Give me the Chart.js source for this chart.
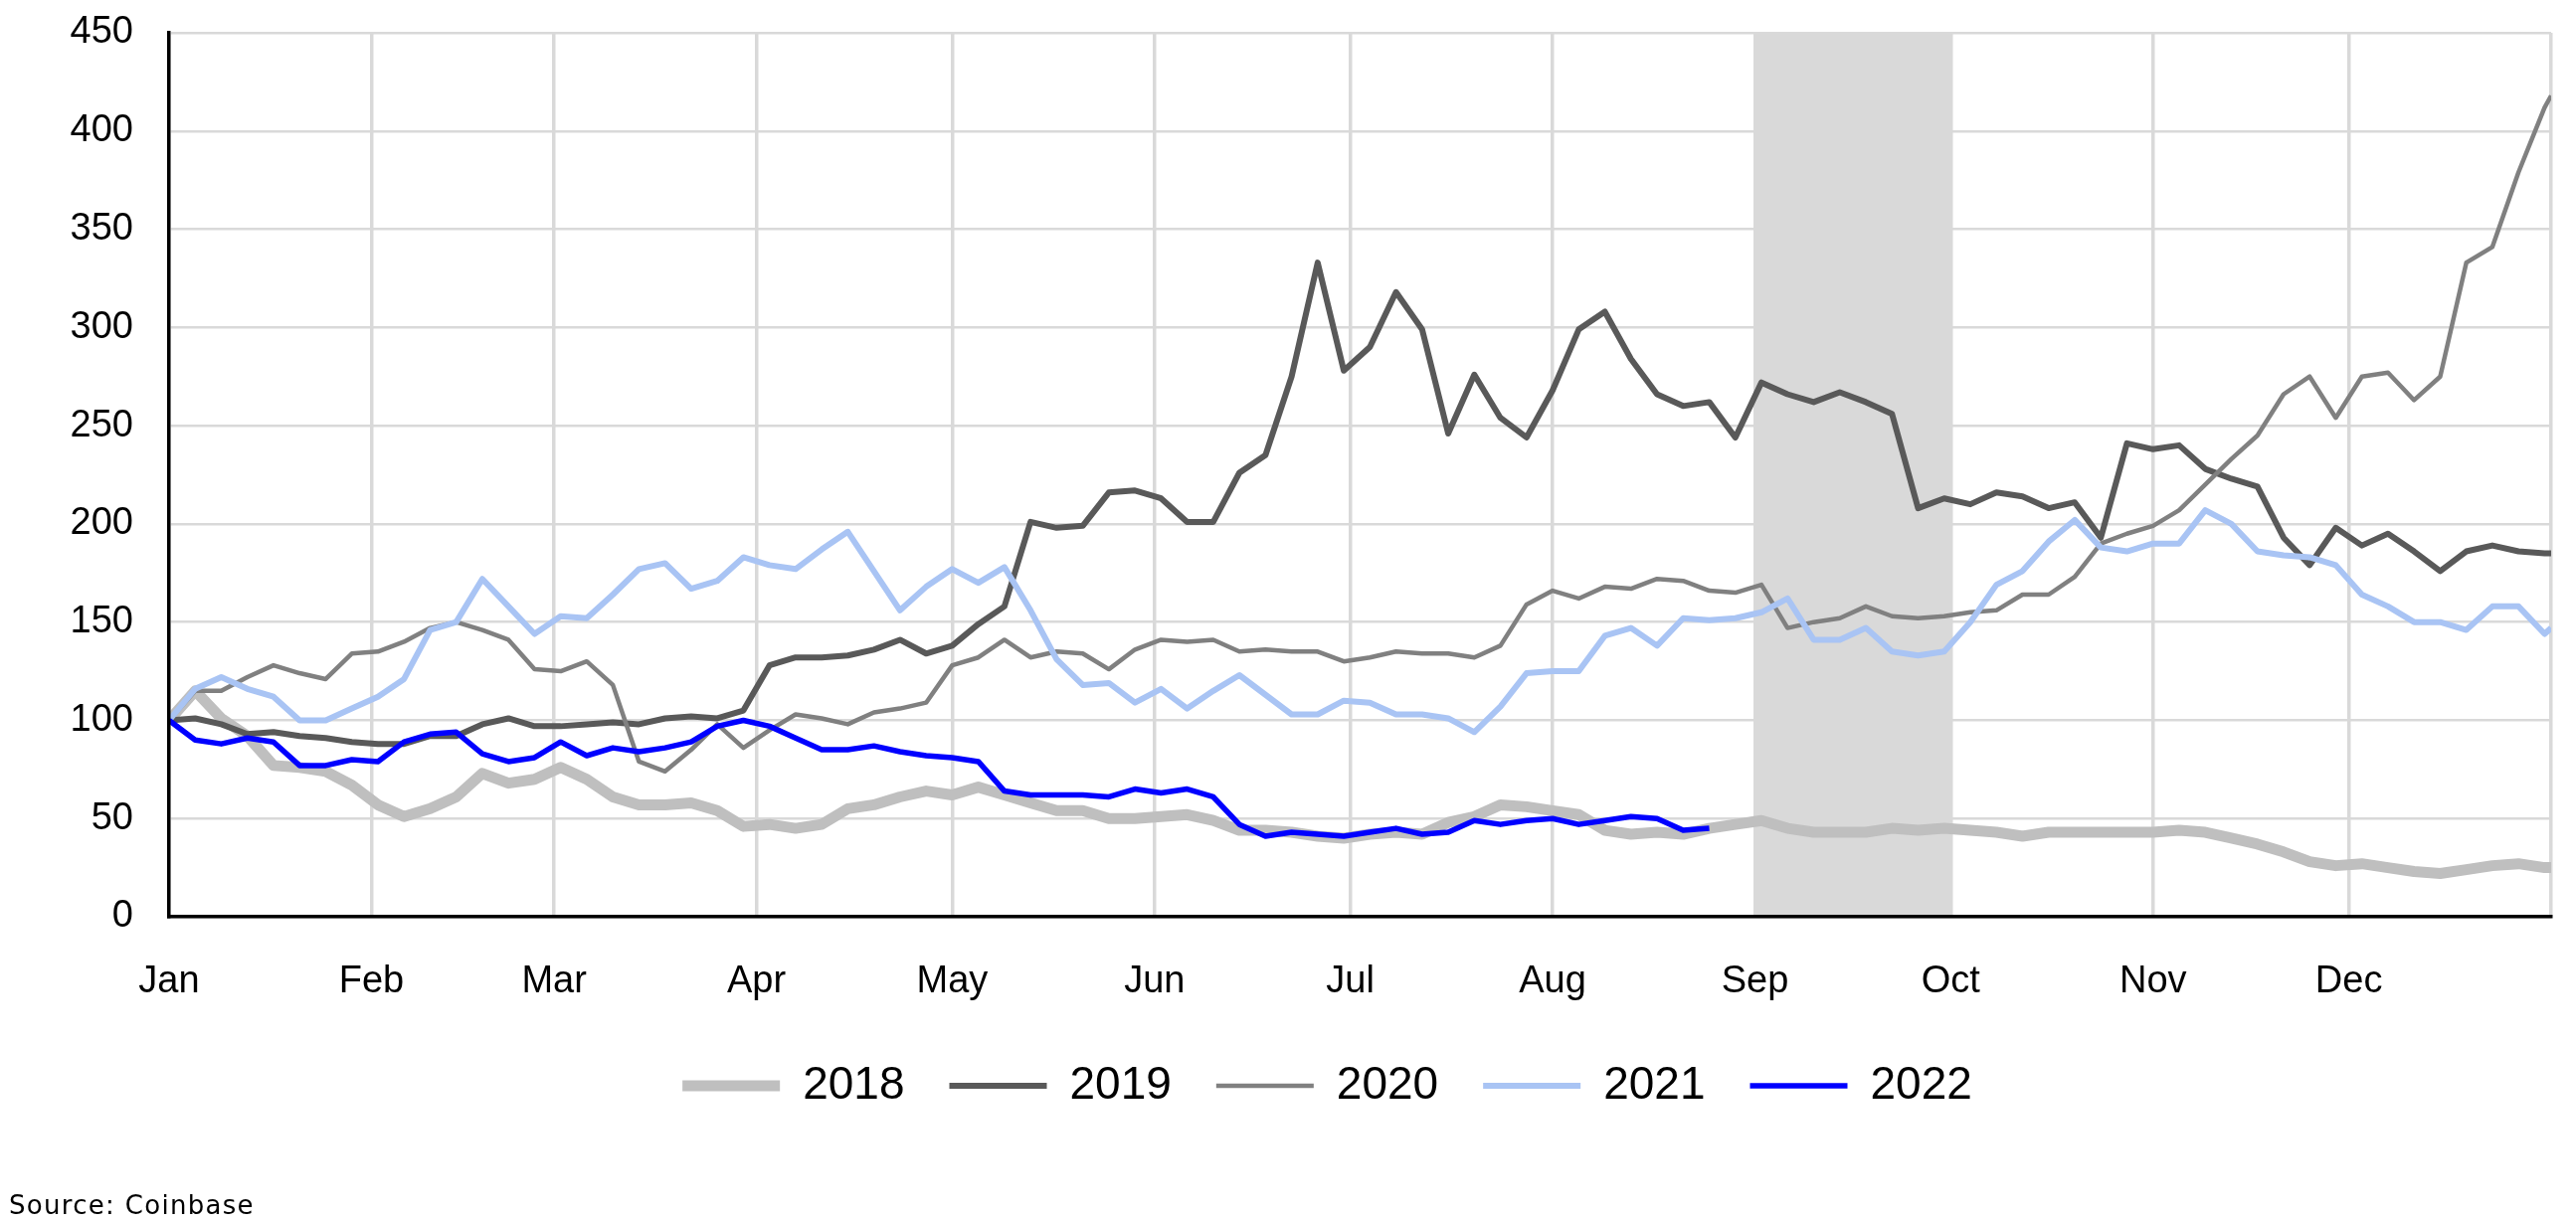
<!DOCTYPE html>
<html>
<head>
<meta charset="utf-8">
<script src="https://cdn.jsdelivr.net/npm/chart.js@4.4.1/dist/chart.umd.min.js"></script>
<style>
  body { margin: 0; background: #fff; }
  #wrap { position: relative; width: 2590px; height: 1230px; }
  #src { position: absolute; left: 9px; top: 1199px; font: 26px 'DejaVu Sans', Verdana, sans-serif; line-height: 26px; letter-spacing: 1.3px; color: #000; }
</style>
</head>
<body>
<div id="wrap">
  <canvas id="myChart" width="2590" height="1230"></canvas>
  <div id="src">Source: Coinbase</div>
</div>
<script>
// day of year for each reading (every 4 days)
const days = [0, 4, 8, 12, 16, 20, 24, 28, 32, 36, 40, 44, 48, 52, 56, 60, 64, 68, 72, 76, 80, 84, 88, 92, 96, 100,
  104, 108, 112, 116, 120, 124, 128, 132, 136, 140, 144, 148, 152, 156, 160, 164, 168, 172, 176, 180, 184, 188, 192, 196, 200,
  204, 208, 212, 216, 220, 224, 228, 232, 236, 240, 244, 248, 252, 256, 260, 264, 268, 272, 276, 280, 284, 288, 292, 296, 300,
  304, 308, 312, 316, 320, 324, 328, 332, 336, 340, 344, 348, 352, 356, 360, 364, 365];

const months = ['Jan', 'Feb', 'Mar', 'Apr', 'May', 'Jun', 'Jul', 'Aug', 'Sep', 'Oct', 'Nov', 'Dec'];
const monthStarts = [0, 31, 59, 90, 120, 151, 181, 212, 243, 273, 304, 334];
const yTicks = [0, 50, 100, 150, 200, 250, 300, 350, 400, 450];

// shaded band (Sep)
const shadeFrom = 243;
const shadeTo = 273;

const y2018 = [100, 115, 101, 92, 77, 76, 74, 67, 57, 51, 55, 61, 73, 68, 70, 76, 70, 61, 57, 57, 58, 54, 46, 47, 45, 47,
  55, 57, 61, 64, 62, 66, 62, 58, 54, 54, 50, 50, 51, 52, 49, 44, 44, 43, 41, 40, 42, 43, 42, 48, 51,
  57, 56, 54, 52, 44, 42, 43, 42, 45, 47, 49, 45, 43, 43, 43, 45, 44, 45, 44, 43, 41, 43, 43, 43, 43,
  43, 44, 43, 40, 37, 33, 28, 26, 27, 25, 23, 22, 24, 26, 27, 25, 25];

const y2019 = [100, 101, 98, 93, 94, 92, 91, 89, 88, 88, 92, 92, 98, 101, 97, 97, 98, 99, 98, 101, 102, 101, 105, 128, 132, 132,
  133, 136, 141, 134, 138, 149, 158, 201, 198, 199, 216, 217, 213, 201, 201, 226, 235, 275, 333, 278, 290, 318, 299, 246, 276,
  254, 244, 268, 299, 308, 284, 266, 260, 262, 244, 272, 266, 262, 267, 262, 256, 208, 213, 210, 216, 214, 208, 211, 193, 241,
  238, 240, 228, 223, 219, 193, 179, 198, 189, 195, 186, 176, 186, 189, 186, 185, 185];

const y2020 = [100, 115, 115, 122, 128, 124, 121, 134, 135, 140, 147, 150, 146, 141, 126, 125, 130, 118, 79, 74, 85, 98, 86, 95, 103, 101,
  98, 104, 106, 109, 128, 132, 141, 132, 135, 134, 126, 136, 141, 140, 141, 135, 136, 135, 135, 130, 132, 135, 134, 134, 132,
  138, 159, 166, 162, 168, 167, 172, 171, 166, 165, 169, 147, 150, 152, 158, 153, 152, 153, 155, 156, 164, 164, 173, 190, 195,
  199, 207, 220, 233, 245, 266, 275, 254, 275, 277, 263, 275, 333, 341, 379, 412, 418];

const y2021 = [100, 116, 122, 116, 112, 100, 100, 106, 112, 121, 146, 150, 172, 158, 144, 153, 152, 164, 177, 180, 167, 171, 183, 179, 177, 187,
  196, 176, 156, 168, 177, 170, 178, 156, 131, 118, 119, 109, 116, 106, 115, 123, 113, 103, 103, 110, 109, 103, 103, 101, 94,
  107, 124, 125, 125, 143, 147, 138, 152, 151, 152, 155, 162, 141, 141, 147, 135, 133, 135, 150, 169, 176, 191, 202, 188, 186,
  190, 190, 207, 200, 186, 184, 183, 179, 164, 158, 150, 150, 146, 158, 158, 144, 147];

// 2022 stops at the end of August
const y2022 = [100, 90, 88, 91, 89, 77, 77, 80, 79, 89, 93, 94, 83, 79, 81, 89, 82, 86, 84, 86, 89, 97, 100, 97, 91, 85,
  85, 87, 84, 82, 81, 79, 64, 62, 62, 62, 61, 65, 63, 65, 61, 47, 41, 43, 42, 41, 43, 45, 42, 43, 49,
  47, 49, 50, 47, 49, 51, 50, 44, 45];

function toPoints(vals) {
  return vals.map((v, i) => ({ x: days[i], y: v }));
}

function series(label, vals, color, width, order) {
  return {
    label: label,
    data: toPoints(vals),
    borderColor: color,
    backgroundColor: color,
    borderWidth: width,
    borderJoinStyle: 'round',
    pointRadius: 0,
    tension: 0,
    order: order
  };
}

// grey band behind the lines
const shadePlugin = {
  id: 'shade',
  beforeDatasetsDraw(chart) {
    const { ctx, chartArea, scales } = chart;
    const x0 = scales.x.getPixelForValue(shadeFrom);
    const x1 = scales.x.getPixelForValue(shadeTo);
    ctx.save();
    ctx.fillStyle = '#d9d9d9';
    ctx.fillRect(x0, chartArea.top, x1 - x0, chartArea.bottom - chartArea.top);
    ctx.restore();
  }
};

// legend sits a little right of the canvas centre
const legendShift = {
  id: 'legendShift',
  afterLayout(chart) {
    chart.legend.left += 52;
    chart.legend.right += 52;
  }
};

const tickFont = { family: "'Liberation Sans', Arial, sans-serif", size: 38 };

const ctx = document.getElementById('myChart').getContext('2d');
const myChart = new Chart(ctx, {
  type: 'line',
  data: {
    datasets: [
      series('2018', y2018, '#bfbfbf', 11, 5),
      series('2019', y2019, '#595959', 6, 4),
      series('2020', y2020, '#808080', 4.5, 3),
      series('2021', y2021, '#a9c4f4', 6, 2),
      series('2022', y2022, '#0000ff', 5.5, 1)
    ]
  },
  options: {
    responsive: false,
    animation: false,
    layout: { padding: { top: 33, right: 25, bottom: 105, left: 0 } },
    plugins: {
      tooltip: { enabled: false },
      legend: {
        position: 'bottom',
        labels: {
          usePointStyle: true,
          pointStyle: 'line',
          pointStyleWidth: 98,
          padding: 45,
          color: '#000',
          sort: (a, b) => a.datasetIndex - b.datasetIndex,
          font: { family: "'Liberation Sans Narrow', 'Arial Narrow', 'Liberation Sans', sans-serif", size: 46 }
        }
      }
    },
    scales: {
      x: {
        type: 'linear',
        min: 0,
        max: 365,
        afterBuildTicks: (scale) => {
          scale.ticks = monthStarts.concat([365]).map(v => ({ value: v }));
        },
        afterFit: (scale) => { scale.height = 102; },
        grid: { color: '#d9d9d9', lineWidth: 3.5, drawTicks: true, tickLength: 43, tickColor: 'rgba(0,0,0,0)' },
        border: { color: '#000', width: 3.5, z: 1 },
        ticks: {
          autoSkip: false,
          maxRotation: 0,
          padding: 0,
          color: '#000',
          font: tickFont,
          callback: (v) => {
            const i = monthStarts.indexOf(v);
            return i >= 0 ? months[i] : '';
          }
        }
      },
      y: {
        min: 0,
        max: 450,
        afterBuildTicks: (scale) => {
          scale.ticks = yTicks.map(v => ({ value: v }));
        },
        afterFit: (scale) => { scale.width = 170; },
        grid: { color: '#d9d9d9', lineWidth: 2.5, drawTicks: true, tickLength: 36, tickColor: 'rgba(0,0,0,0)' },
        border: { color: '#000', width: 3.5, z: 1 },
        ticks: { padding: 0, color: '#000', font: tickFont }
      }
    }
  },
  plugins: [shadePlugin, legendShift]
});
</script>
</body>
</html>
